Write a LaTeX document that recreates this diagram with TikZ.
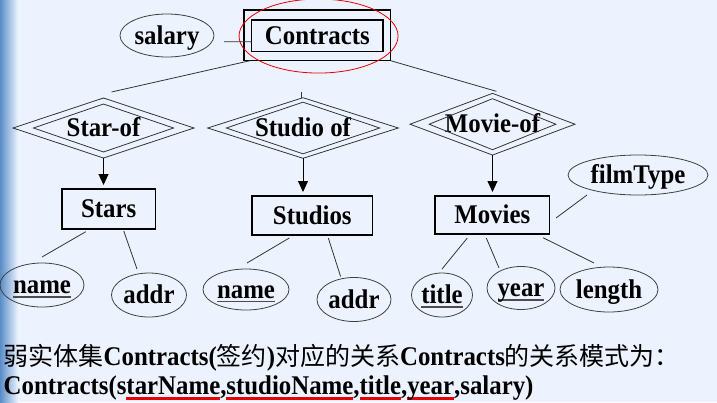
\documentclass[tikz,border=0pt]{standalone}
\usepackage{fontspec}
\setmainfont{Liberation Serif}[FakeStretch=0.92]
\newfontfamily\cjk{Noto Sans CJK SC}
\usetikzlibrary{shapes.geometric,arrows.meta,calc}
\definecolor{bg}{RGB}{237,243,254}
\definecolor{edgeblue}{RGB}{90,140,200}
\definecolor{ulred}{RGB}{230,0,0}
\newsavebox\ulbox
\newcommand{\keyul}[1]{\sbox\ulbox{#1}\rlap{\color{black!70}\rule[-4pt]{\wd\ulbox}{1.6pt}}\usebox\ulbox}
\newcommand{\redul}[1]{\sbox\ulbox{#1}\rlap{\color{ulred}\rule[-5.5pt]{\wd\ulbox}{3pt}}\usebox\ulbox}
\newcommand{\zh}[1]{{\cjk\mdseries\fontsize{25}{30}\selectfont #1}}
\tikzset{
  lbl/.style={font=\bfseries\fontsize{27}{32}\selectfont, text height=17.5pt, text depth=0pt, inner sep=0pt, outer sep=0pt},
  entity/.style={lbl, rectangle, draw=black, line width=1.3pt},
  attr/.style={lbl, ellipse, draw=black!75, line width=0.8pt},
  rel/.style={lbl, diamond, shape aspect=3, draw=black!80, line width=0.8pt},
  reldraw/.style={draw=black!80, line width=0.8pt},
  link/.style={draw=black!80, line width=0.8pt},
  isa/.style={draw=black, line width=0.9pt, -{Triangle[width=10pt,length=11pt]}, shorten >=4pt},
  bottomtext/.style={anchor=base west, inner sep=0pt, outer sep=0pt, font=\bfseries\fontsize{27}{32}\selectfont},
}
\begin{document}
\begin{tikzpicture}[x=1pt,y=-1pt]
\useasboundingbox (0,0) rectangle (717,402);
\fill[bg] (0,0) rectangle (717,402);
\shade[left color=edgeblue, right color=bg] (0,0) rectangle (18,402);

% entities
\node[entity, minimum width=131.3pt, minimum height=31.7pt] (contracts) at (317.35,35.85) {Contracts};
\node[rectangle, draw=black, line width=1.3pt, inner sep=0pt, outer sep=0pt, minimum width=146.7pt, minimum height=50.7pt] (co) at (317.35,35.35) {};
\node[entity, minimum width=93.5pt, minimum height=40pt] (stars) at (108.75,209) {Stars};
\node[entity, minimum width=120.6pt, minimum height=39pt] (studios) at (312.3,215.5) {Studios};
\node[entity, minimum width=114.6pt, minimum height=38pt] (movies) at (492.3,215) {Movies};

% red highlight
\draw[ulred, line width=0.8pt] ($(contracts)+(1.2,0.2)$) ellipse [x radius=79.5pt, y radius=37pt];

% relationships (double diamonds)
\node[rel, minimum width=181pt, minimum height=60pt] (sof) at (103.5,128) {Star-of};
\draw[reldraw] ($(sof)+(-70,0)$) -- ($(sof)+(0,-24)$) -- ($(sof)+(70,0)$) -- ($(sof)+(0,24)$) -- cycle;
\node[rel, minimum width=190.6pt, minimum height=60.6pt] (sdo) at (303,128) {Studio of};
\draw[reldraw] ($(sdo)+(-76.7,0)$) -- ($(sdo)+(0,-25.8)$) -- ($(sdo)+(76.7,0)$) -- ($(sdo)+(0,25.8)$) -- cycle;
\node[rel, text depth=-3pt, minimum width=165pt, minimum height=61.7pt] (mof) at (492.5,124.2) {Movie-of};
\draw[reldraw] ($(mof)+(-63.3,0)$) -- ($(mof)+(0,-25.5)$) -- ($(mof)+(63.3,0)$) -- ($(mof)+(0,25.5)$) -- cycle;

% attributes
\node[attr, minimum width=94pt, minimum height=43pt] (salary) at (167,35.5) {salary};
\node[attr, minimum width=140pt, minimum height=40pt] (film) at (638,175) {filmType};
\node[attr, minimum width=84pt, minimum height=44pt] (sname) at (42,285) {\keyul{name}};
\node[attr, minimum width=75pt, minimum height=44pt] (saddr) at (149,295) {addr};
\node[attr, minimum width=86pt, minimum height=41pt] (stname) at (246,289.5) {\keyul{name}};
\node[attr, minimum width=74pt, minimum height=44pt] (staddr) at (354,299.5) {addr};
\node[attr, minimum width=61pt, minimum height=44pt] (title) at (442,295) {\keyul{title}};
\node[attr, minimum width=68pt, minimum height=43pt] (year) at (521,288) {\keyul{year}};
\node[attr, minimum width=98pt, minimum height=45pt] (length) at (609,289.5) {length};

% connectors
\draw[link] ($(salary.east)+(10,6.3)$) -- ($(contracts.west)+(0,6)$);
\draw[link] ($(co.south west)+(6,0)$) -- ($(sof.north)+(8,-6)$);
\draw[link] ($(sdo.north)+(-1.3,-5.4)$) -- ($(sdo.north)+(-1.3,0)$ |- co.south);
\draw[link] (co.south east) -- ($(mof.north)+(4,-2)$);

\draw[isa] (sof.south) -- (sof.south |- stars.north);
\draw[isa] (sdo.south) -- (sdo.south |- studios.north);
\draw[isa] (mof.south) -- (mof.south |- movies.north);

\draw[link] ($(stars.south)+(-23,2.7)$) -- ($(sname.north)+(0,-6)$);
\draw[link] ($(stars.south)+(15,2)$) -- ($(saddr.north)+(-12,-4)$);
\draw[link] ($(studios.south)+(-23,3)$) -- ($(stname.north)+(1,-6)$);
\draw[link] ($(studios.south)+(16,3)$) -- ($(staddr.north)+(-13.4,-1)$);
\draw[link] ($(movies.south)+(-25,4)$) -- ($(title.north)+(0,-4)$);
\draw[link] ($(movies.south)+(-6,4)$) -- ($(year)+(-22,-20)$);
\draw[link] ($(movies.south)+(50.7,3.7)$) -- ($(length.north)+(-15,-4)$);
\draw[link] ($(movies.east)+(6.4,3)$) -- ($(film)+(-51,20)$);

% bottom text
\node[bottomtext] (line1) at (3.7,365.7) {\zh{弱实体集}Contracts(\zh{签约})\zh{对应的关系}Contracts\zh{的关系模式为：}};
\node[bottomtext] (line2) at (3.7,394) {Contracts(s\redul{tarName},\redul{studioName},\redul{title},\redul{year},salary)};
\end{tikzpicture}
\end{document}
